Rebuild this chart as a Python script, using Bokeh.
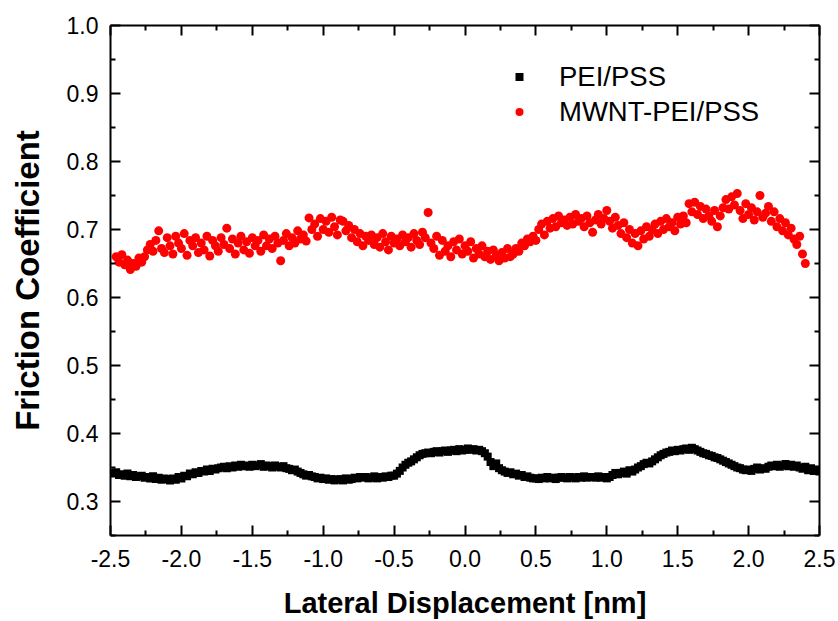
from bokeh.plotting import figure
from bokeh.models import (LinearAxis, FixedTicker, PrintfTickFormatter, Range1d,
                          Legend, LegendItem, CustomLabelingPolicy)
from bokeh.embed import file_html
from bokeh.resources import INLINE

# ---------------- data ----------------
pei_x_start, pei_x_step = -2.50, 0.02
pei_pss = [
    0.342, 0.341, 0.343, 0.339, 0.340, 0.338, 0.341, 0.337, 0.339, 0.336,
    0.337, 0.338, 0.335, 0.336, 0.334, 0.337, 0.333, 0.335, 0.332, 0.334,
    0.333, 0.331, 0.334, 0.332, 0.336, 0.334, 0.338, 0.337, 0.341, 0.340,
    0.343, 0.342, 0.345, 0.344, 0.347, 0.345, 0.348, 0.347, 0.349, 0.350,
    0.351, 0.349, 0.352, 0.350, 0.353, 0.351, 0.354, 0.352, 0.353, 0.351,
    0.354, 0.352, 0.353, 0.355, 0.351, 0.353, 0.352, 0.350, 0.353, 0.351,
    0.350, 0.352, 0.349, 0.348, 0.346, 0.347, 0.344, 0.342, 0.340, 0.338,
    0.339, 0.337, 0.336, 0.334, 0.335, 0.333, 0.334, 0.332, 0.333, 0.331,
    0.332, 0.333, 0.331, 0.334, 0.332, 0.333, 0.335, 0.334, 0.336, 0.335,
    0.336, 0.334, 0.335, 0.337, 0.334, 0.336, 0.335, 0.337, 0.336, 0.338,
    0.338, 0.341, 0.345, 0.350, 0.354, 0.357, 0.359, 0.362, 0.365, 0.368,
    0.370, 0.371, 0.372, 0.371, 0.373, 0.374, 0.372, 0.374, 0.375, 0.373,
    0.375, 0.376, 0.374, 0.377, 0.375, 0.376, 0.378, 0.376, 0.377, 0.375,
    0.376, 0.374, 0.371, 0.366, 0.358, 0.352, 0.356, 0.349, 0.346, 0.344,
    0.342, 0.343, 0.340, 0.341, 0.338, 0.339, 0.336, 0.337, 0.335, 0.334,
    0.334, 0.333, 0.335, 0.334, 0.336, 0.334, 0.335, 0.333, 0.335, 0.336,
    0.335, 0.334, 0.336, 0.335, 0.334, 0.336, 0.335, 0.337, 0.335, 0.336,
    0.336, 0.335, 0.337, 0.335, 0.336, 0.334, 0.336, 0.339, 0.342, 0.340,
    0.342, 0.344, 0.341, 0.346, 0.344, 0.347, 0.350, 0.352, 0.355, 0.357,
    0.356, 0.359, 0.362, 0.365, 0.368, 0.370, 0.372, 0.373, 0.375, 0.374,
    0.376, 0.375, 0.377, 0.378, 0.376, 0.379, 0.377, 0.375, 0.373, 0.371,
    0.370, 0.368, 0.367, 0.365, 0.364, 0.362, 0.360, 0.358, 0.356, 0.354,
    0.352, 0.350, 0.349, 0.347, 0.346, 0.347, 0.345, 0.348, 0.350, 0.347,
    0.349, 0.348, 0.351, 0.353, 0.352, 0.354, 0.351, 0.353, 0.355, 0.352,
    0.354, 0.351, 0.353, 0.350, 0.348, 0.351, 0.346, 0.349, 0.345, 0.347,
    0.344,
]

mwnt_x_start, mwnt_x_step = -2.46, 0.02
mwnt_pei_pss = [
    0.660, 0.652, 0.663, 0.648, 0.655, 0.641, 0.650, 0.646, 0.658, 0.652,
    0.660, 0.670, 0.678, 0.668, 0.684, 0.698, 0.672, 0.666, 0.688, 0.676,
    0.664, 0.690, 0.680, 0.672, 0.694, 0.662, 0.684, 0.676, 0.688, 0.666,
    0.680, 0.670, 0.690, 0.661, 0.684, 0.676, 0.668, 0.688, 0.678, 0.702,
    0.672, 0.686, 0.664, 0.680, 0.690, 0.670, 0.682, 0.665, 0.688, 0.676,
    0.684, 0.668, 0.692, 0.676, 0.686, 0.672, 0.690, 0.680, 0.654, 0.684,
    0.694, 0.676, 0.688, 0.680, 0.698, 0.686, 0.692, 0.683, 0.717, 0.700,
    0.708, 0.690, 0.716, 0.700, 0.712, 0.696, 0.718, 0.704, 0.692, 0.714,
    0.712, 0.698, 0.706, 0.688, 0.700, 0.682, 0.694, 0.676, 0.690, 0.684,
    0.692, 0.678, 0.688, 0.674, 0.694, 0.682, 0.670, 0.690, 0.680, 0.686,
    0.676, 0.692, 0.682, 0.688, 0.674, 0.694, 0.684, 0.678, 0.696, 0.688,
    0.725, 0.680, 0.672, 0.690, 0.662, 0.684, 0.668, 0.676, 0.660, 0.682,
    0.670, 0.686, 0.664, 0.676, 0.668, 0.682, 0.658, 0.672, 0.664, 0.676,
    0.660, 0.668, 0.656, 0.670, 0.662, 0.654, 0.666, 0.658, 0.672, 0.660,
    0.664, 0.672, 0.668, 0.680, 0.676, 0.686, 0.682, 0.690, 0.684, 0.700,
    0.708, 0.692, 0.712, 0.702, 0.716, 0.704, 0.720, 0.710, 0.714, 0.706,
    0.718, 0.708, 0.722, 0.712, 0.716, 0.704, 0.720, 0.710, 0.696, 0.714,
    0.722, 0.708, 0.716, 0.728, 0.712, 0.702, 0.718, 0.706, 0.694, 0.710,
    0.688, 0.700, 0.680, 0.694, 0.676, 0.698, 0.686, 0.704, 0.690, 0.700,
    0.708, 0.694, 0.712, 0.700, 0.716, 0.704, 0.710, 0.698, 0.718, 0.708,
    0.720, 0.710, 0.738, 0.726, 0.740, 0.722, 0.734, 0.716, 0.730, 0.720,
    0.712, 0.728, 0.704, 0.720, 0.732, 0.744, 0.730, 0.748, 0.736, 0.753,
    0.728, 0.716, 0.738, 0.722, 0.732, 0.714, 0.726, 0.750, 0.718, 0.724,
    0.734, 0.712, 0.726, 0.704, 0.716, 0.698, 0.710, 0.692, 0.702, 0.686,
    0.678, 0.690, 0.664, 0.650,
]

pei_x = [round(pei_x_start + pei_x_step * i, 3) for i in range(len(pei_pss))]
mwnt_x = [round(mwnt_x_start + mwnt_x_step * i, 3) for i in range(len(mwnt_pei_pss))]

x_major = [-2.5, -2.0, -1.5, -1.0, -0.5, 0.0, 0.5, 1.0, 1.5, 2.0, 2.5]
x_minor = [-2.25, -1.75, -1.25, -0.75, -0.25, 0.25, 0.75, 1.25, 1.75, 2.25]
y_major = [0.3, 0.4, 0.5, 0.6, 0.7, 0.8, 0.9, 1.0]
y_minor = [0.25, 0.35, 0.45, 0.55, 0.65, 0.75, 0.85, 0.95]

series_names = ["PEI/PSS", "MWNT-PEI/PSS"]
x_title = "Lateral Displacement [nm]"
y_title = "Friction Coefficient"

# ---------------- figure ----------------
FONT = "Liberation Sans"

p = figure(width=838, height=621, output_backend="svg", toolbar_location=None,
           x_range=Range1d(-2.5, 2.5), y_range=Range1d(0.25, 1.0),
           x_axis_location=None, y_axis_location=None,
           min_border_left=110, min_border_right=19,
           min_border_top=25, min_border_bottom=84)
p.grid.visible = False
p.outline_line_color = None
p.background_fill_color = "white"
p.border_fill_color = "white"

r1 = p.scatter(pei_x, pei_pss, marker="square", size=8, fill_color="black",
               line_color="black", line_width=0)
r2 = p.scatter(mwnt_x, mwnt_pei_pss, marker="circle", size=9, fill_color="#ff0000",
               line_color="#ff0000", line_width=0)

hide_all = CustomLabelingPolicy(code="""
    const all = [...indices]
    for (const i of all) indices.unset(i)
    return indices
""")


def style_axis(ax, ticks, minor, show_labels):
    ax.ticker = FixedTicker(ticks=ticks, minor_ticks=minor)
    ax.axis_line_width = 2
    ax.axis_line_color = "black"
    ax.major_tick_line_color = "black"
    ax.minor_tick_line_color = "black"
    ax.major_tick_line_width = 2
    ax.minor_tick_line_width = 2
    ax.major_tick_in = 10
    ax.major_tick_out = 0
    ax.minor_tick_in = 5
    ax.minor_tick_out = 0
    ax.formatter = PrintfTickFormatter(format="%.1f")
    ax.major_label_text_font = FONT
    ax.major_label_text_color = "black"
    if show_labels:
        ax.major_label_text_font_size = "23px"
    else:
        ax.major_label_text_font_size = "1px"
        ax.major_label_policy = hide_all
        ax.major_label_standoff = 0


xb = LinearAxis(axis_label=x_title)
style_axis(xb, x_major, x_minor, True)
xb.major_label_standoff = 14
xb.axis_label_standoff = 17
xb.axis_label_text_font = FONT
xb.axis_label_text_font_style = "bold"
xb.axis_label_text_font_size = "29px"
xb.axis_label_text_color = "black"
p.add_layout(xb, "below")

yl = LinearAxis(axis_label=y_title)
style_axis(yl, y_major, y_minor, True)
yl.major_label_standoff = 12
yl.axis_label_standoff = 18
yl.axis_label_text_font = FONT
yl.axis_label_text_font_style = "bold"
yl.axis_label_text_font_size = "33px"
yl.axis_label_text_color = "black"
p.add_layout(yl, "left")

xt = LinearAxis()
style_axis(xt, x_major, x_minor, False)
p.add_layout(xt, "above")

yr = LinearAxis()
style_axis(yr, y_major, y_minor, False)
p.add_layout(yr, "right")

legend = Legend(items=[LegendItem(label=series_names[0], renderers=[r1]),
                       LegendItem(label=series_names[1], renderers=[r2])],
                location=(399, 406), orientation="vertical",
                border_line_color=None, background_fill_alpha=0,
                padding=0, margin=0, spacing=0,
                glyph_width=20, glyph_height=35, label_height=35,
                label_standoff=30,
                label_text_font=FONT, label_text_font_size="27.5px",
                label_text_color="black")
p.add_layout(legend, "center")

open("out.html", "w").write(file_html(p, INLINE))
